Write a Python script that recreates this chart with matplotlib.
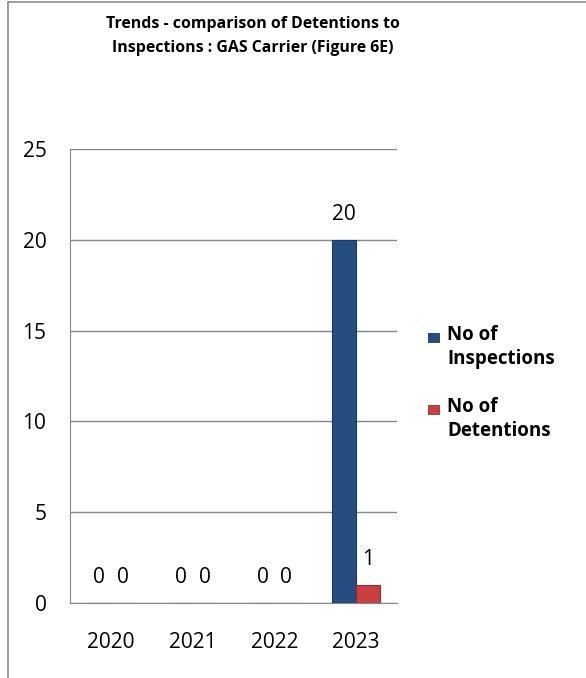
import matplotlib.pyplot as plt
from matplotlib.patches import Rectangle
import numpy as np

years = ["2020", "2021", "2022", "2023"]
inspections = [0, 0, 0, 20]
detentions = [0, 0, 0, 1]
series_names = ["No of\nInspections", "No of\nDetentions"]
colors = ['#254d7f', '#c8403f']
edges = ['#1c3a60', '#9a2d2c']
title = "Trends - comparison of Detentions to\nInspections : GAS Carrier (Figure 6E)"

plt.rcParams['font.family'] = ['Open Sans', 'DejaVu Sans']

W, H = 586, 678
fig = plt.figure(figsize=(W / 100, H / 100), dpi=100)
# outer chart border
fig.add_artist(Rectangle((8 / W, -0.05), 1.0, 1.05 - 2 / H, transform=fig.transFigure,
                         fill=False, edgecolor='#8c8c8c', linewidth=1.2))

ax = fig.add_axes([70 / W, 1 - 603 / H, 327 / W, 454 / H])
x = np.arange(len(years))
w = 0.29
b1 = ax.bar(x - w / 2, inspections, w, color=colors[0], edgecolor=edges[0], linewidth=0.8, zorder=3)
b2 = ax.bar(x + w / 2, detentions, w, color=colors[1], edgecolor=edges[1], linewidth=0.8, zorder=3)

for bars, vals in ((b1, inspections), (b2, detentions)):
    for r, v in zip(bars, vals):
        ax.annotate(str(v), (r.get_x() + r.get_width() / 2, v), xytext=(0, 11),
                    textcoords='offset points', ha='center', va='bottom', fontsize=15)

ax.set_xlim(-0.5, 3.5)
ax.set_ylim(0, 25)
ax.set_yticks(range(0, 26, 5))
ax.set_xticks(x)
ax.set_xticklabels(years)
ax.tick_params(length=0, labelsize=15)
ax.tick_params(axis='x', pad=21)
ax.tick_params(axis='y', pad=17)
ax.grid(axis='y', color='#868686', linewidth=1, zorder=0)
for s in ['top', 'right']:
    ax.spines[s].set_visible(False)
for s in ['bottom', 'left']:
    ax.spines[s].set_color('#868686')

fig.text(253 / W, 1 - 36 / H, title, ha='center', va='center', fontsize=11.4,
         fontweight='bold', linespacing=1.75)

# legend
leg_y = [347, 419]
for name, c, e, yc in zip(series_names, colors, edges, leg_y):
    fig.add_artist(Rectangle((428 / W, 1 - (yc - 5) / H), 11 / W, 9 / H, transform=fig.transFigure,
                             facecolor=c, edgecolor=e, linewidth=0.6))
    fig.text(447 / W, 1 - yc / H, name, ha='left', va='center', fontsize=13.5,
             fontweight='bold', linespacing=1.25)

fig.savefig("out.png", dpi=100)
